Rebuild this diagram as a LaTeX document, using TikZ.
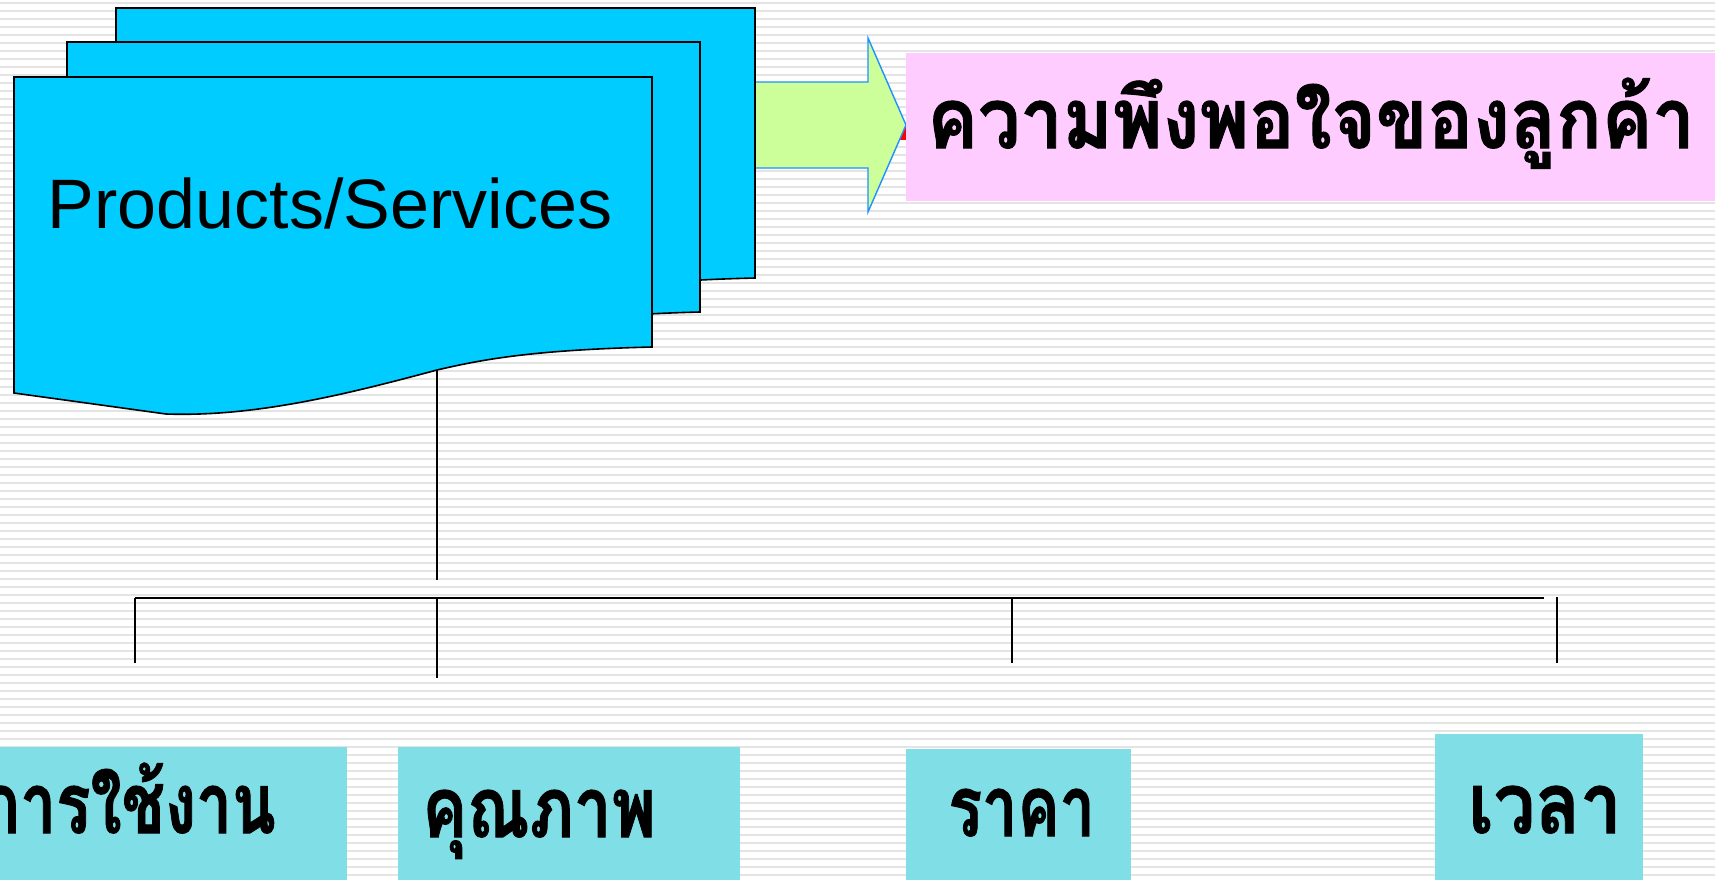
\documentclass[tikz,border=0pt]{standalone}
\usepackage{fontspec}
\setmainfont{Liberation Sans}
\newfontfamily\thai[Script=Thai, BoldFeatures={FakeBold=1.2}]{Loma}
\definecolor{doccyan}{RGB}{0,204,255}
\definecolor{arrowgreen}{RGB}{204,255,153}
\definecolor{arrowblue}{RGB}{30,144,255}
\definecolor{pinkbox}{RGB}{255,204,255}
\definecolor{tealbox}{RGB}{128,223,230}
\definecolor{stripegray}{RGB}{228,228,228}
\tikzset{
  stripe/.style={draw=stripegray, line width=1pt},
  docstyle/.style={fill=doccyan, draw=black, line width=0.8pt},
  pics/docpage/.style={code={\draw[docstyle] (0,0) -- (#1,0) -- (#1,270) .. controls (520,273) and (470,282) .. (423,293) .. controls (330,318) and (240,340) .. (152,337) -- (0,316) -- cycle;}},
  thaitxt/.style={font=\thai\bfseries\fontsize{42}{46}\selectfont, inner sep=0pt},
  tealfill/.style={fill=tealbox},
  conn/.style={draw=black, line width=0.6pt},
  bar/.style={draw=black, line width=1pt}
}
\begin{document}
\begin{tikzpicture}[x=0.5pt,y=-0.5pt]
\useasboundingbox (0,0) rectangle (1715,879);
\clip (0,0) rectangle (1715,879);
\fill[white] (0,0) rectangle (1715,879);
\foreach \i in {0,...,110} \draw[stripe] (0,\i*8+2.7) -- (1715,\i*8+2.7);
% red mark behind arrow tip
\fill[red] (900,126) rectangle (908,140);
% arrow
\fill[arrowgreen] (750,82) -- (868,82) -- (868,38) -- (906,125) -- (868,212) -- (868,168) -- (750,168) -- cycle;
\draw[arrowblue, line width=0.7pt] (755,82) -- (868,82) -- (868,38) -- (906,125) -- (868,212) -- (868,168) -- (755,168);
% pink title box
\fill[pinkbox] (906,53) rectangle (1720,201);
\node[thaitxt, anchor=base west, xscale=0.9] (title) at (927,148) {ความพึงพอใจของลูกค้า};
% document stack
\pic at (116,8) {docpage=639};
\pic at (67,42) {docpage=633};
\pic at (14,77) {docpage=638};
\node[anchor=base, font=\fontsize{35}{40}\selectfont, inner sep=0pt] (ps) at (330,228) {Products/Services};
% connectors
\coordinate (docbot) at (437,370);
\coordinate (stemend) at (437,580);
\coordinate (b1) at (135,598);
\coordinate (b2) at (437,598);
\coordinate (b3) at (1012,598);
\coordinate (bend) at (1544,598);
\coordinate (t1) at (135,663);
\coordinate (t2) at (437,678);
\coordinate (t3) at (1012,663);
\coordinate (t4top) at (1557,597);
\coordinate (t4) at (1557,663);
\draw[conn] (docbot) -- (stemend);
\draw[bar] (b1) -- (bend);
\draw[conn] (b1) -- (t1);
\draw[conn] (b2) -- (t2);
\draw[conn] (b3) -- (t3);
\draw[conn] (t4top) -- (t4);
% bottom boxes
\fill[tealfill] (-5,747) rectangle (347,885);
\fill[tealfill] (398,747) rectangle (740,885);
\fill[tealfill] (906,749) rectangle (1131,885);
\fill[tealfill] (1435,734) rectangle (1643,885);
\node[thaitxt, anchor=base east, xscale=0.76] (use) at (276,833) {การใช้งาน};
\node[thaitxt, anchor=base west, xscale=0.8] (qual) at (422,837) {คุณภาพ};
\node[thaitxt, anchor=base west, xscale=0.75] (price) at (948,836) {ราคา};
\node[thaitxt, anchor=base west, xscale=0.88] (time) at (1468,833) {เวลา};
\end{tikzpicture}
\end{document}
